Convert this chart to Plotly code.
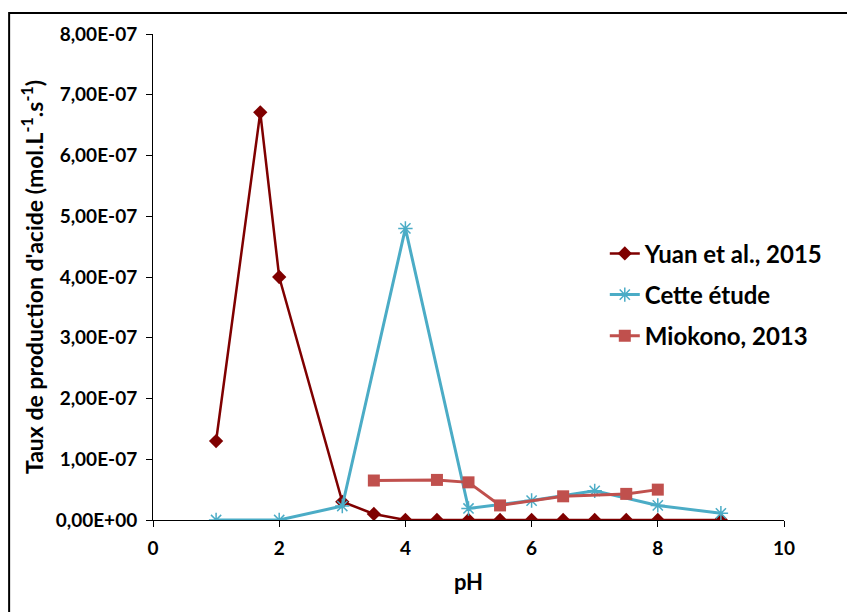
import plotly.graph_objects as go

# pH values and acid production rates (mol.L-1.s-1)
yuan_ph = [1, 1.7, 2, 3, 3.5, 4, 4.5, 5, 5.5, 6, 6.5, 7, 7.5, 8, 9]
yuan_rate = [1.30e-7, 6.71e-7, 4.00e-7, 0.30e-7, 0.10e-7, 0, 0, 0, 0, 0, 0, 0, 0, 0, 0]

etude_ph = [1, 2, 3, 4, 5, 6, 7, 8, 9]
etude_rate = [0, 0, 0.23e-7, 4.80e-7, 0.19e-7, 0.32e-7, 0.48e-7, 0.24e-7, 0.11e-7]

mio_ph = [3.5, 4.5, 5, 5.5, 6.5, 7.5, 8]
mio_rate = [0.65e-7, 0.66e-7, 0.62e-7, 0.24e-7, 0.39e-7, 0.43e-7, 0.50e-7]

y_ticks = [i * 1e-7 for i in range(9)]
y_labels = ["0,00E+00"] + ["%d,00E-07" % i for i in range(1, 9)]

FONT = "Lato"

fig = go.Figure()
fig.add_trace(go.Scatter(x=yuan_ph, y=yuan_rate, mode="lines+markers", name="Yuan et al., 2015",
                         legendgroup="yuan",
                         line=dict(color="#7f0000", width=2.5),
                         marker=dict(symbol="diamond", size=11, color="#7f0000")))
fig.add_trace(go.Scatter(x=etude_ph, y=etude_rate, mode="lines+markers", name="Cette étude",
                         legendgroup="etude",
                         line=dict(color="#4bacc6", width=3),
                         marker=dict(symbol="asterisk-open", size=12, line=dict(color="#4bacc6", width=1.5))))
fig.add_trace(go.Scatter(x=mio_ph, y=mio_rate, mode="lines+markers", name="Miokono, 2013",
                         legendgroup="mio",
                         line=dict(color="#c0504d", width=3),
                         marker=dict(symbol="square", size=12, color="#c0504d")))

fig.update_layout(
    width=855, height=612,
    margin=dict(l=145, r=79, t=26, b=100),
    paper_bgcolor="white", plot_bgcolor="white",
    font=dict(family=FONT, color="black"),
    showlegend=True,
    legend=dict(x=0.716, y=0.594, xanchor="left", yanchor="top",
                font=dict(family=FONT, size=24, color="black", weight="bold"),
                tracegroupgap=7, itemwidth=30, bgcolor="rgba(0,0,0,0)"),
    xaxis=dict(range=[0, 10], tickvals=[0, 2, 4, 6, 8, 10], showgrid=False, zeroline=False,
               showline=True, linecolor="black", linewidth=1, ticks="outside", ticklen=6,
               tickcolor="black", ticklabelstandoff=5, tickfont=dict(family=FONT, size=19, weight="bold"),
               title=dict(text="pH", font=dict(family=FONT, size=22, weight="bold"), standoff=16)),
    yaxis=dict(range=[0, 8e-7], tickvals=y_ticks, ticktext=y_labels, showgrid=False, zeroline=False,
               showline=True, linecolor="black", linewidth=1, ticks="outside", ticklen=6,
               tickcolor="black", ticklabelstandoff=5, tickfont=dict(family=FONT, size=19, weight="bold"),
               title=dict(text="Taux de production d'acide (mol.L<sup>-1</sup>.s<sup>-1</sup>)",
                          font=dict(family=FONT, size=23, weight="bold"), standoff=5)),
)

# outer chart frame
fig.add_shape(type="rect", xref="paper", yref="paper", x0=-0.228, x1=1.3, y0=-0.4, y1=1.043,
              line=dict(color="black", width=2), fillcolor="rgba(0,0,0,0)", layer="above")

fig.write_html("out.html")
